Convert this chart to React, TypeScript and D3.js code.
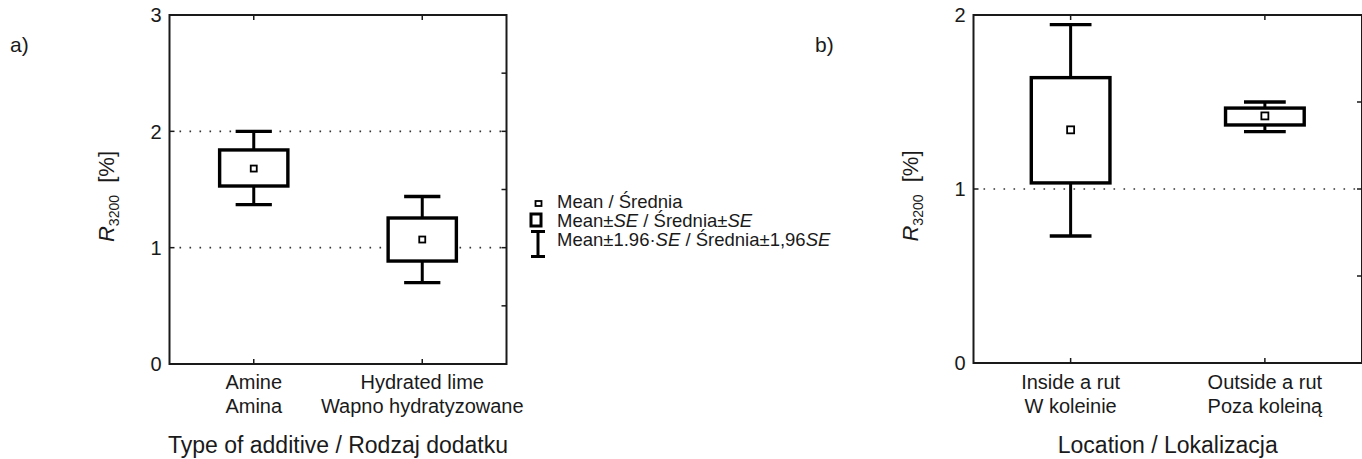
import React from "react";
import * as d3 from "d3";

// panel a) type of additive
const catsA = ["Amine", "Hydrated lime"];
const catsAPl = ["Amina", "Wapno hydratyzowane"];
const meanA = [1.68, 1.07];
const seLowA = [1.53, 0.885];
const seHighA = [1.84, 1.255];
const ciLowA = [1.37, 0.7];
const ciHighA = [2.0, 1.44];
const ticksA = [0, 1, 2, 3];
const gridA = [1, 2];

// panel b) location
const catsB = ["Inside a rut", "Outside a rut"];
const catsBPl = ["W koleinie", "Poza koleiną"];
const meanB = [1.34, 1.42];
const seLowB = [1.035, 1.368];
const seHighB = [1.64, 1.465];
const ciLowB = [0.73, 1.33];
const ciHighB = [1.945, 1.5];
const ticksB = [0, 1, 2];
const gridB = [1];

const font = "'Liberation Sans', Arial, sans-serif";
const ink = "#1a1a1a";

type PanelProps = {
  left: number;
  right: number;
  top: number;
  bottom: number;
  yMax: number;
  ticks: number[];
  grid: number[];
  cats: string[];
  catsPl: string[];
  mean: number[];
  seLow: number[];
  seHigh: number[];
  ciLow: number[];
  ciHigh: number[];
  title: string;
  tag: string;
  tagX: number;
  meanSize: number;
};

const Panel = (p: PanelProps) => {
  const y = d3.scaleLinear().domain([0, p.yMax]).range([p.bottom, p.top]);
  const x = d3.scalePoint().domain(p.cats).range([p.left, p.right]).padding(0.5);
  const step = x.step();
  const boxW = step * 0.405;
  const capW = step * 0.215;
  const halfTicks = d3.range(0, p.yMax + 0.01, 0.5);
  const midY = (p.top + p.bottom) / 2 + 7;
  const midX = (p.left + p.right) / 2;

  return (
    <g>
      <text x={p.tagX} y={52} fontSize={21} fontFamily={font} fill={ink}>{p.tag}</text>

      {/* dotted reference lines */}
      {p.grid.map((g) => (
        <line key={"g" + g} x1={p.left + 10} x2={p.right} y1={y(g)} y2={y(g)}
          stroke="#333" strokeWidth={1.6} strokeDasharray="1.6 8.4" />
      ))}

      {/* frame */}
      <rect x={p.left} y={p.top} width={p.right - p.left} height={p.bottom - p.top}
        fill="none" stroke={ink} strokeWidth={2} />

      {/* ticks */}
      {p.ticks.map((t) => (
        <g key={"t" + t}>
          <line x1={p.left} x2={p.left + 5} y1={y(t)} y2={y(t)} stroke={ink} strokeWidth={1.5} />
          <text x={p.left - 8} y={y(t)} dy="0.36em" textAnchor="end" fontSize={20}
            fontFamily={font} fill={ink}>{t}</text>
        </g>
      ))}
      {halfTicks.map((t) => (
        <line key={"r" + t} x1={p.right - 5} x2={p.right} y1={y(t)} y2={y(t)} stroke={ink} strokeWidth={1.5} />
      ))}
      {p.cats.map((c, i) => (
        <g key={"c" + c}>
          <line x1={x(c)} x2={x(c)} y1={p.bottom} y2={p.bottom - 5} stroke={ink} strokeWidth={1.5} />
          <line x1={x(c)} x2={x(c)} y1={p.top} y2={p.top + 5} stroke={ink} strokeWidth={1.5} />
          <text x={x(c)} y={388.5} textAnchor="middle" fontSize={20} fontFamily={font} fill={ink}>{c}</text>
          <text x={x(c)} y={412.5} textAnchor="middle" fontSize={20} fontFamily={font} fill={ink}>{p.catsPl[i]}</text>
        </g>
      ))}

      {/* boxes */}
      {p.cats.map((c, i) => {
        const cx = x(c) as number;
        return (
          <g key={"b" + c} stroke="#000" fill="#fff">
            <line x1={cx} x2={cx} y1={y(p.ciHigh[i])} y2={y(p.ciLow[i])} strokeWidth={3} />
            <line x1={cx - capW / 2} x2={cx + capW / 2} y1={y(p.ciHigh[i])} y2={y(p.ciHigh[i])} strokeWidth={3.3} />
            <line x1={cx - capW / 2} x2={cx + capW / 2} y1={y(p.ciLow[i])} y2={y(p.ciLow[i])} strokeWidth={3.3} />
            <rect x={cx - boxW / 2} y={y(p.seHigh[i])} width={boxW}
              height={y(p.seLow[i]) - y(p.seHigh[i])} strokeWidth={3.4} />
            <rect x={cx - p.meanSize / 2} y={y(p.mean[i]) - p.meanSize / 2}
              width={p.meanSize} height={p.meanSize} strokeWidth={1.8} />
          </g>
        );
      })}

      {/* axis titles */}
      <text transform={`translate(${p.left - 56},${midY}) rotate(-90)`} textAnchor="middle"
        fontSize={22} fontFamily={font} fill={ink}>
        <tspan fontStyle="italic">R</tspan>
        <tspan fontSize={14} dy={5}>3200</tspan>
        <tspan dy={-5}>{"\u00a0\u00a0[%]"}</tspan>
      </text>
      <text x={midX} y={453} textAnchor="middle" fontSize={23} fontFamily={font} fill={ink}>{p.title}</text>
    </g>
  );
};

const Legend = () => (
  <g fontFamily={font} fontSize={18.5} fill={ink}>
    <rect x={535.5} y={201} width={6} height={5} fill="#fff" stroke="#000" strokeWidth={1.8} />
    <rect x={531} y={214} width={10} height={12} fill="#fff" stroke="#000" strokeWidth={3} />
    <line x1={538} x2={538} y1={231} y2={257} stroke="#000" strokeWidth={3} />
    <line x1={531} x2={545} y1={231.5} y2={231.5} stroke="#000" strokeWidth={3} />
    <line x1={531} x2={545} y1={256.5} y2={256.5} stroke="#000" strokeWidth={3} />
    <text x={557} y={208}>Mean / Średnia</text>
    <text x={557} y={227}>
      Mean±<tspan fontStyle="italic">SE</tspan> / Średnia±<tspan fontStyle="italic">SE</tspan>
    </text>
    <text x={557} y={246}>
      Mean±1.96·<tspan fontStyle="italic">SE</tspan> / Średnia±1,96<tspan fontStyle="italic">SE</tspan>
    </text>
  </g>
);

export default function App() {
  return (
    <svg width={1362} height={459} style={{ position: "absolute", left: 0, top: 0, background: "#fff" }}>
      <Panel left={169.5} right={506.5} top={15} bottom={364} yMax={3} ticks={ticksA} grid={gridA}
        cats={catsA} catsPl={catsAPl} mean={meanA} seLow={seLowA} seHigh={seHighA}
        ciLow={ciLowA} ciHigh={ciHighA} title="Type of additive / Rodzaj dodatku"
        tag="a)" tagX={10} meanSize={6} />
      <Legend />
      <Panel left={973.5} right={1362} top={15} bottom={363} yMax={2} ticks={ticksB} grid={gridB}
        cats={catsB} catsPl={catsBPl} mean={meanB} seLow={seLowB} seHigh={seHighB}
        ciLow={ciLowB} ciHigh={ciHighB} title="Location / Lokalizacja"
        tag="b)" tagX={815} meanSize={7} />
    </svg>
  );
}
